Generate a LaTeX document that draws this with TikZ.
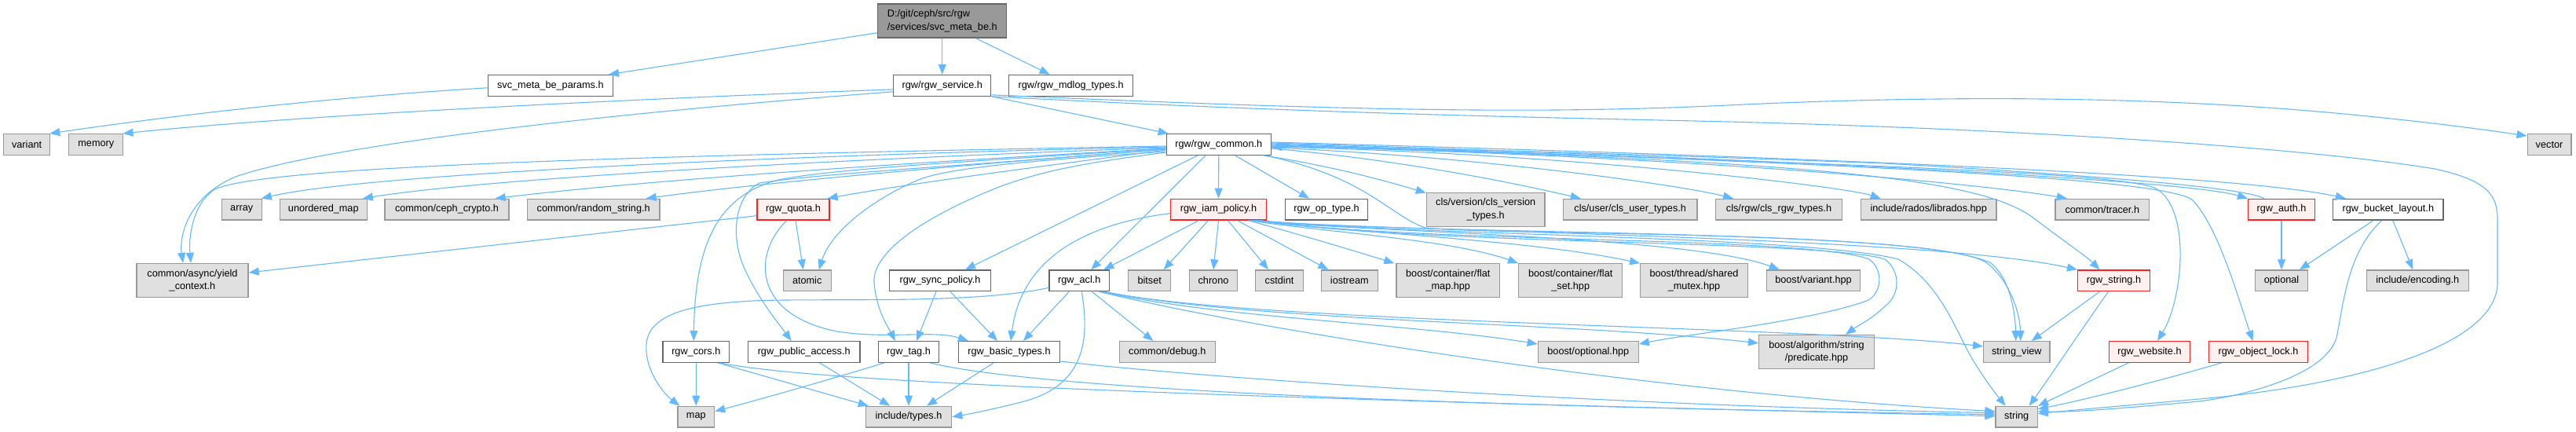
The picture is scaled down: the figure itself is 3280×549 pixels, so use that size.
\documentclass[tikz,border=0pt]{standalone}
\usepackage{fontspec}
\setmainfont{Liberation Sans}
\usetikzlibrary{arrows.meta}
\definecolor{edgeblue}{HTML}{63B8FF}
\definecolor{extfill}{HTML}{E0E0E0}
\definecolor{extdraw}{HTML}{999999}
\definecolor{nodedraw}{HTML}{666666}
\definecolor{redfill}{HTML}{FFF0F0}
\definecolor{reddraw}{HTML}{FF2020}
\definecolor{topfill}{HTML}{999999}
\begin{document}
\begin{tikzpicture}[x=1pt,y=-1pt,
  box/.style={draw=nodedraw,fill=white,line width=1.3pt,inner sep=0pt,minimum height=26.7pt,font=\fontsize{12.7}{16.5}\selectfont,text=black},
  ext/.style={box,draw=extdraw,fill=extfill},
  redbox/.style={box,draw=reddraw,fill=redfill},
  topbox/.style={box,fill=topfill},
  two/.style={minimum height=43pt,align=center},
  dep/.style={draw=edgeblue,line width=1.1pt,-{Triangle[length=13pt,width=10pt]}},
]
\useasboundingbox (0,0) rectangle (3280,549);
% row 0/1
\node[topbox,two,align=left,minimum width=164pt] (top) at (1199.8,26.6) {D:/git/ceph/src/rgw\\/services/svc\_meta\_be.h};
\node[box,minimum width=159pt] (params) at (700.9,108.8) {svc\_meta\_be\_params.h};
\node[box,minimum width=124pt] (service) at (1199.8,108.8) {rgw/rgw\_service.h};
\node[box,minimum width=158pt] (mdlog) at (1363.6,108.8) {rgw/rgw\_mdlog\_types.h};
% row 2
\node[ext,minimum width=59pt] (variant) at (34.1,184) {variant};
\node[ext,minimum width=69pt] (memory) at (122.3,184) {memory};
\node[box,minimum width=133pt] (common) at (1551.8,184) {rgw/rgw\_common.h};
\node[ext,minimum width=55.7pt] (vector) at (3246,184) {vector};
% row 3
\node[ext,minimum width=51pt] (array) at (307.7,266.7) {array};
\node[ext,minimum width=110.7pt] (umap) at (411.8,266.7) {unordered\_map};
\node[ext,minimum width=158pt] (crypto) at (569,266.7) {common/ceph\_crypto.h};
\node[ext,minimum width=168.6pt] (rstring) at (755.7,266.7) {common/random\_string.h};
\node[redbox,minimum width=92pt] (quota) at (1010,266.7) {rgw\_quota.h};
\node[redbox,minimum width=121.7pt] (iam) at (1551.5,266.7) {rgw\_iam\_policy.h};
\node[box,minimum width=105.3pt] (optype) at (1689,266.7) {rgw\_op\_type.h};
\node[ext,two,minimum width=150.7pt] (clsver) at (1891.7,266.7) {cls/version/cls\_version\\\_types.h};
\node[ext,minimum width=170.7pt] (clsuser) at (2075.7,266.7) {cls/user/cls\_user\_types.h};
\node[ext,minimum width=160.7pt] (clsrgw) at (2265,266.7) {cls/rgw/cls\_rgw\_types.h};
\node[ext,minimum width=172.7pt] (librados) at (2455.7,266.7) {include/rados/librados.hpp};
\node[ext,minimum width=119.7pt] (tracer) at (2676.8,266.7) {common/tracer.h};
\node[redbox,minimum width=84.7pt] (auth) at (2905,266.7) {rgw\_auth.h};
\node[box,minimum width=140.3pt] (bucket) at (3040.8,266.7) {rgw\_bucket\_layout.h};
% row 4
\node[ext,two,minimum width=142.2pt] (yield) at (245,357) {common/async/yield\\\_context.h};
\node[ext,minimum width=61pt] (atomic) at (1027.7,357.3) {atomic};
\node[box,minimum width=128.7pt] (sync) at (1197,357.3) {rgw\_sync\_policy.h};
\node[box,minimum width=76.7pt] (acl) at (1374.3,357.3) {rgw\_acl.h};
\node[ext,minimum width=54pt] (bitset) at (1463.7,357.3) {bitset};
\node[ext,minimum width=60.7pt] (chrono) at (1545,357.3) {chrono};
\node[ext,minimum width=60.7pt] (cstdint) at (1629,357.3) {cstdint};
\node[ext,minimum width=72pt] (iostream) at (1718.3,357.3) {iostream};
\node[ext,two,minimum width=131.7pt] (flatmap) at (1843.8,357.3) {boost/container/flat\\\_map.hpp};
\node[ext,two,minimum width=132pt] (flatset) at (1999.7,357.3) {boost/container/flat\\\_set.hpp};
\node[ext,two,minimum width=136.7pt] (smutex) at (2157,357.3) {boost/thread/shared\\\_mutex.hpp};
\node[ext,minimum width=119.3pt] (bvariant) at (2309,357.3) {boost/variant.hpp};
\node[redbox,minimum width=91.7pt] (rgwstring) at (2691.5,357.3) {rgw\_string.h};
\node[ext,minimum width=66.7pt] (optional) at (2905,357.3) {optional};
\node[ext,minimum width=130pt] (encoding) at (3078.3,357.3) {include/encoding.h};
% row 5
\node[box,minimum width=84.7pt] (cors) at (886.3,448) {rgw\_cors.h};
\node[box,minimum width=142.7pt] (public) at (1023.7,448) {rgw\_public\_access.h};
\node[box,minimum width=77pt] (tag) at (1157,448) {rgw\_tag.h};
\node[box,minimum width=129.4pt] (basic) at (1285,448) {rgw\_basic\_types.h};
\node[ext,minimum width=122pt] (debug) at (1486.3,448) {common/debug.h};
\node[ext,minimum width=128pt] (boptional) at (2022.3,448) {boost/optional.hpp};
\node[ext,two,minimum width=146.7pt] (predicate) at (2313,448) {boost/algorithm/string\\/predicate.hpp};
\node[ext,minimum width=84.3pt] (stringview) at (2567.8,448) {string\_view};
\node[redbox,minimum width=103.3pt] (website) at (2737,448) {rgw\_website.h};
\node[redbox,minimum width=125.7pt] (objlock) at (2875.5,448) {rgw\_object\_lock.h};
% row 6
\node[ext,minimum width=46.7pt] (map) at (886.3,530.7) {map};
\node[ext,minimum width=109.3pt] (types) at (1157,530.7) {include/types.h};
\node[ext,minimum width=53.3pt] (string) at (2567.7,530.7) {string};

% ---- edges from top
\draw[dep] ([yshift=7]top.south west) -- ([xshift=-6]params.north east);
\draw[dep] (top.south) -- (service.north);
\draw[dep] ([xshift=43]top.south) -- ([xshift=-27]mdlog.north);
% params
\draw[dep] ([yshift=-3]params.west) .. controls (400,125) and (200,150) .. ([xshift=-1]variant.north east);
% service
\draw[dep] ([yshift=-5]service.west) .. controls (700,130) and (350,150) .. ([xshift=-1]memory.north east);
\draw[dep] ([yshift=-8]service.west) .. controls (700,150) and (400,190) .. (300,225) .. controls (240,250) and (228,300) .. ([xshift=-12]yield.north);
\draw[dep] (service.south east) -- ([xshift=3]common.north west);
\draw[dep] ([yshift=2]service.south east) .. controls (1700,140) and (1950,146) .. (2200,134) .. controls (2450,122) and (2700,122) .. (2927,140) .. controls (3050,150) and (3150,163) .. ([yshift=-3]vector.north west);
\draw[dep] (service.south east) .. controls (1700,146) and (2000,150) .. (2200,155) .. controls (2600,165) and (2950,190) .. (3100,215) .. controls (3170,230) and (3180,250) .. (3180,280) -- (3180,360) .. controls (3180,440) and (3000,490) .. (2800,508) .. controls (2700,517) and (2640,522) .. ([yshift=4]string.east);
% common -> left
\draw[dep] ([yshift=-2]common.west) .. controls (700,200) and (320,215) .. (272,242) .. controls (246,260) and (240,300) .. ([xshift=-2]yield.north);
\draw[dep] ([yshift=-3]common.west) .. controls (900,200) and (450,225) .. ([xshift=-1]array.north east);
\draw[dep] ([yshift=-4]common.west) .. controls (1000,205) and (600,230) .. ([xshift=-6]umap.north east);
\draw[dep] ([yshift=-5]common.west) .. controls (1100,210) and (800,232) .. ([xshift=-18]crypto.north east);
\draw[dep] ([yshift=-6]common.west) .. controls (1200,212) and (950,235) .. ([xshift=-18]rstring.north east);
\draw[dep] ([yshift=-7]common.west) .. controls (1300,215) and (1150,235) .. ([xshift=-3]quota.north east);
\draw[dep] ([yshift=-9]common.west) .. controls (1300,205) and (1200,215) .. (1167,230) .. controls (1120,250) and (1060,290) .. ([xshift=15]atomic.north);
\draw[dep] ([yshift=-5]common.west) .. controls (1250,205) and (1050,215) .. (987,230) .. controls (920,250) and (885,300) .. ([xshift=-3]cors.north);
\draw[dep] ([yshift=-6]common.west) .. controls (1250,210) and (1050,220) .. (967,233) .. controls (935,250) and (930,300) .. (947,340) .. controls (965,380) and (990,410) .. ([xshift=-16]public.north);
\draw[dep] ([yshift=-10]common.west) .. controls (1400,205) and (1330,215) .. (1267,240) .. controls (1180,275) and (1110,320) .. (1113,360) .. controls (1116,395) and (1130,415) .. ([xshift=-17]tag.north);
\draw[dep] ([xshift=-27]common.south) -- ([xshift=32]sync.north);
\draw[dep] ([xshift=-17]common.south) -- ([xshift=15]acl.north);
\draw[dep] (common.south) -- (iam.north);
\draw[dep] ([xshift=21]common.south) -- ([xshift=-22]optype.north);
% common -> right
\draw[dep] ([xshift=-10]common.south east) .. controls (1700,212) and (1770,232) .. ([yshift=-1]clsver.north west);
\draw[dep] ([yshift=-5]common.east) .. controls (1800,205) and (1950,238) .. ([xshift=-63]clsuser.north);
\draw[dep] ([yshift=-4]common.east) .. controls (1900,200) and (2150,238) .. ([xshift=-58]clsrgw.north);
\draw[dep] ([yshift=-3]common.east) .. controls (2000,195) and (2350,238) .. ([xshift=-61]librados.north);
\draw[dep] ([yshift=-2]common.east) .. controls (2200,200) and (2550,238) .. ([xshift=-45]tracer.north);
\draw[dep] ([yshift=-1]common.east) .. controls (2300,205) and (2520,225) .. (2590,278) .. controls (2625,305) and (2655,325) .. ([xshift=-18]rgwstring.north);
\draw[dep] (common.east) .. controls (2300,208) and (2700,218) .. (2745,240) .. controls (2790,265) and (2780,380) .. ([xshift=10]website.north);
\draw[dep] ([yshift=1]common.east) .. controls (2400,210) and (2760,228) .. (2792,255) .. controls (2825,290) and (2850,380) .. ([xshift=-7]objlock.north);
\draw[dep] ([yshift=2]common.east) .. controls (2200,200) and (2780,228) .. (auth.north west);
\draw[dep] ([xshift=-22]auth.north) .. controls (2860,240) and (2700,225) .. (2400,208) .. controls (2000,193) and (1750,187) .. ([yshift=-3]common.east);
\draw[dep] ([yshift=3]common.east) .. controls (2300,200) and (2850,222) .. ([xshift=-54]bucket.north);
\draw[dep] ([xshift=-8]common.south east) .. controls (1740,225) and (1770,275) .. (1815,290) .. controls (1900,300) and (2450,292) .. (2535,335) .. controls (2560,355) and (2566,400) .. ([xshift=-1]stringview.north);
% iam
\draw[dep] ([yshift=-5]iam.west) .. controls (1380,285) and (1300,330) .. ([xshift=2]basic.north);
\draw[dep] ([xshift=-25]iam.south) -- ([xshift=31]acl.north);
\draw[dep] ([xshift=-13]iam.south) -- ([xshift=18]bitset.north);
\draw[dep] (iam.south) -- (chrono.north);
\draw[dep] ([xshift=12]iam.south) -- ([xshift=-14]cstdint.north);
\draw[dep] ([xshift=24]iam.south) -- ([xshift=-27]iostream.north);
\draw[dep] ([xshift=38]iam.south) .. controls (1660,300) and (1720,318) .. ([xshift=-2]flatmap.north west);
\draw[dep] ([xshift=40]iam.south) .. controls (1680,295) and (1850,305) .. (flatset.north west);
\draw[dep] ([xshift=42]iam.south) .. controls (1700,295) and (1950,305) .. (smutex.north west);
\draw[dep] ([xshift=44]iam.south) .. controls (1720,295) and (2150,300) .. ([xshift=17]bvariant.north west);
\draw[dep] ([xshift=46]iam.south) .. controls (1750,295) and (2450,300) .. (rgwstring.north west);
\draw[dep] ([xshift=48]iam.south) .. controls (1800,300) and (2470,290) .. (2530,335) .. controls (2560,358) and (2572,400) .. ([xshift=5]stringview.north);
\draw[dep] ([xshift=50]iam.south) .. controls (1800,300) and (2300,300) .. (2417,330) .. controls (2470,360) and (2490,420) .. (2510,455) .. controls (2525,480) and (2540,500) .. ([xshift=-14]string.north);
\draw[dep] ([xshift=52]iam.south) .. controls (1800,310) and (2300,300) .. (2380,330) .. controls (2400,345) and (2395,375) .. (2377,383) .. controls (2300,410) and (2150,425) .. ([yshift=-4]boptional.north east);
\draw[dep] ([xshift=54]iam.south) .. controls (1800,312) and (2320,305) .. (2400,330) .. controls (2420,345) and (2420,375) .. (2400,390) .. controls (2385,405) and (2365,415) .. ([xshift=37]predicate.north);
% acl
\draw[dep] ([yshift=-9]acl.west) .. controls (1250,385) and (1100,381) .. (1000,382) .. controls (850,383) and (820,410) .. (823,447) .. controls (825,480) and (850,505) .. ([xshift=3]map.north west);
\draw[dep] ([xshift=-13]acl.south) -- ([xshift=18]basic.north);
\draw[dep] ([xshift=3]acl.south) .. controls (1385,420) and (1390,490) .. (1300,512) .. controls (1260,522) and (1235,527) .. (types.east);
\draw[dep] ([xshift=16]acl.south) -- ([xshift=-18]debug.north);
\draw[dep] ([xshift=28]acl.south) .. controls (1550,405) and (1800,412) .. ([yshift=-4]boptional.north west);
\draw[dep] ([xshift=30]acl.south) .. controls (1600,410) and (2000,410) .. ([yshift=-11]predicate.north west);
\draw[dep] ([xshift=32]acl.south) .. controls (1600,412) and (2300,415) .. ([yshift=7]stringview.west);
\draw[dep] ([xshift=25]acl.south) .. controls (1600,420) and (2100,500) .. ([yshift=7]string.west);
% quota
\draw[dep] ([yshift=-8]quota.west) -- ([yshift=10]yield.east);
\draw[dep] ([xshift=3]quota.south) -- ([xshift=-5]atomic.north);
\draw[dep] ([xshift=-8]quota.south) .. controls (960,320) and (955,400) .. (1066,422) .. controls (1130,432) and (1190,420) .. ([xshift=-52]basic.north);
% sync
\draw[dep] ([xshift=-5]sync.south) -- ([xshift=10]tag.north);
\draw[dep] ([xshift=13]sync.south) -- ([xshift=-15]basic.north);
% cors
\draw[dep] (cors.south) -- (map.north);
\draw[dep] ([xshift=-15]cors.south east) -- ([xshift=4]types.north west);
\draw[dep] ([xshift=-12]cors.south east) .. controls (1050,490) and (1700,510) .. ([yshift=1]string.west);
% tag
\draw[dep] ([xshift=8]tag.south west) .. controls (1050,485) and (980,505) .. ([yshift=7]map.east);
\draw[dep] (tag.south) -- (types.north);
\draw[dep] ([xshift=-12]tag.south east) .. controls (1300,490) and (1700,515) .. ([yshift=3]string.west);
% public
\draw[dep] ([xshift=20]public.south) -- ([xshift=-24]types.north);
% basic
\draw[dep] ([xshift=-20]basic.south) -- ([xshift=23]types.north);
\draw[dep] ([yshift=2]basic.south east) .. controls (1500,478) and (2000,515) .. ([yshift=5]string.west);
% rgw_string
\draw[dep] ([xshift=-18]rgwstring.south) -- ([xshift=19]stringview.north);
\draw[dep] ([xshift=-7]rgwstring.south) .. controls (2650,420) and (2610,480) .. ([xshift=16]string.north);
% website, object lock
\draw[dep] ([xshift=-27]website.south) -- (string.north east);
\draw[dep] ([xshift=-47]objlock.south) .. controls (2750,485) and (2650,510) .. ([yshift=-4]string.north east);
% bucket
\draw[dep] ([xshift=-19]bucket.south) -- ([xshift=23]optional.north);
\draw[dep] ([xshift=6]bucket.south) -- ([xshift=-6]encoding.north);
\draw[dep] ([xshift=-8]bucket.south) .. controls (2990,320) and (2985,380) .. (2975,430) .. controls (2960,480) and (2850,505) .. (2800,511) .. controls (2700,520) and (2640,525) .. ([yshift=7]string.east);
% auth
\draw[dep] (auth.south) -- (optional.north);
\end{tikzpicture}
\end{document}
